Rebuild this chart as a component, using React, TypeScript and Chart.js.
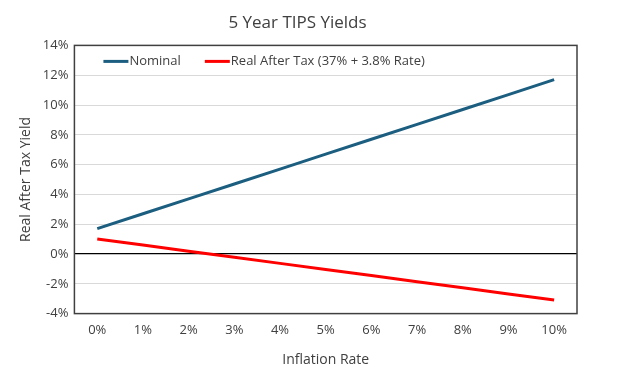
import React, { useEffect, useRef } from "react";
import { Chart, registerables } from "chart.js";

Chart.register(...registerables);

const categories = ["0%", "1%", "2%", "3%", "4%", "5%", "6%", "7%", "8%", "9%", "10%"];
const nominal = [1.7, 2.7, 3.7, 4.7, 5.7, 6.7, 7.7, 8.7, 9.7, 10.7, 11.7];
const realAfterTax = [1.01, 0.6, 0.19, -0.22, -0.63, -1.04, -1.45, -1.86, -2.27, -2.68, -3.09];
const seriesNames = ["Nominal", "Real After Tax (37% + 3.8% Rate)"];
const seriesColors = ["#1B5E80", "#FF0000"];

const FONT = "'Open Sans', 'DejaVu Sans', sans-serif";
const TEXT = "#404040";

const frameAndLegend = {
  id: "frameAndLegend",
  afterDraw(chart: any) {
    const { ctx, chartArea } = chart;
    ctx.save();
    ctx.strokeStyle = "#404040";
    ctx.lineWidth = 1.5;
    ctx.strokeRect(chartArea.left, chartArea.top, chartArea.right - chartArea.left, chartArea.bottom - chartArea.top);
    ctx.font = `13px ${FONT}`;
    ctx.textBaseline = "middle";
    ctx.fillStyle = TEXT;
    let x = chartArea.left + 29;
    const y = chartArea.top + 16;
    chart.data.datasets.forEach((ds: any) => {
      ctx.strokeStyle = ds.borderColor;
      ctx.lineWidth = 3;
      ctx.beginPath();
      ctx.moveTo(x, y);
      ctx.lineTo(x + 25, y);
      ctx.stroke();
      ctx.fillText(ds.label, x + 26, y);
      x += 26 + ctx.measureText(ds.label).width + 24;
    });
    ctx.restore();
  },
};

export default function App() {
  const ref = useRef<HTMLCanvasElement>(null);
  useEffect(() => {
    const chart = new Chart(ref.current!, {
      type: "line",
      data: {
        labels: categories,
        datasets: [
          { label: seriesNames[0], data: nominal, borderColor: seriesColors[0], backgroundColor: seriesColors[0], borderWidth: 3, pointRadius: 0, tension: 0 },
          { label: seriesNames[1], data: realAfterTax, borderColor: seriesColors[1], backgroundColor: seriesColors[1], borderWidth: 3, pointRadius: 0, tension: 0 },
        ],
      },
      options: {
        animation: false,
        responsive: true,
        maintainAspectRatio: false,
        layout: { padding: { left: 18, right: 58, top: 11, bottom: 12 } },
        plugins: {
          legend: { display: false },
          tooltip: { enabled: false },
          title: {
            display: true,
            text: "5 Year TIPS Yields",
            color: TEXT,
            font: { family: FONT, size: 17, weight: "normal" },
            padding: { top: 2, bottom: 12 },
          },
        },
        scales: {
          x: {
            offset: true,
            grid: { display: false, drawTicks: false },
            border: { display: false },
            ticks: { color: TEXT, font: { family: FONT, size: 13 }, padding: 9 },
            title: { display: true, text: "Inflation Rate", color: TEXT, font: { family: FONT, size: 14 }, padding: { top: 4, bottom: 0 } },
          },
          y: {
            min: -4,
            max: 14,
            ticks: { stepSize: 2, color: TEXT, font: { family: FONT, size: 13 }, padding: 6, callback: (v: any) => `${v}%` },
            grid: {
              drawTicks: false,
              color: (c: any) => (c.tick && c.tick.value === 0 ? "#000000" : "#D9D9D9"),
              lineWidth: (c: any) => (c.tick && c.tick.value === 0 ? 1.2 : 1),
            },
            border: { display: false },
            title: { display: true, text: "Real After Tax Yield", color: TEXT, font: { family: FONT, size: 14 }, padding: { top: 0, bottom: 2 } },
          },
        },
      },
      plugins: [frameAndLegend],
    });
    return () => chart.destroy();
  }, []);
  return (
    <div style={{ position: "fixed", left: 0, top: 0, width: 635, height: 380, background: "#fff" }}>
      <canvas ref={ref} />
    </div>
  );
}
